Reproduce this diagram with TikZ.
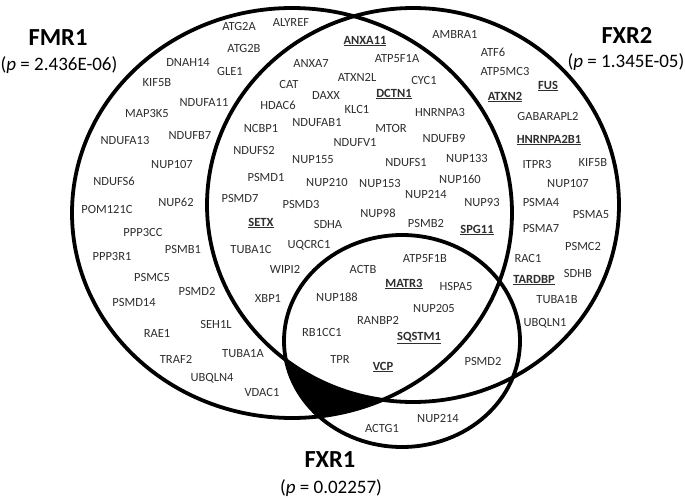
\documentclass[tikz,border=0pt]{standalone}
\usepackage{fontspec}
\setmainfont{Carlito}
\begin{document}
\begin{tikzpicture}[x=1pt,y=-1pt,
  gene/.style={font=\fontsize{12.5}{14}\selectfont, text=black!82, inner sep=0pt},
  keyg/.style={gene, font=\fontsize{12.5}{14}\selectfont\bfseries},
  title/.style={font=\fontsize{24.5}{28}\selectfont\bfseries, text=black, inner sep=0pt},
  pval/.style={font=\fontsize{19}{22}\selectfont, text=black, inner sep=0pt},
  ring/.style={line width=3.8pt, draw=black}]
\useasboundingbox (0,0) rectangle (685,498);
% black region: FMR1 and FXR1 but not FXR2
\begin{scope}
  \clip (292,213) ellipse [x radius=220, y radius=205];
  \clip (402,341) ellipse [x radius=118, y radius=106];
  \fill[black, even odd rule] (0,0) rectangle (685,498) (413,205) ellipse [x radius=206, y radius=197];
\end{scope}
\draw[ring] (292,213) ellipse [x radius=220, y radius=205];
\draw[ring] (413,205) ellipse [x radius=206, y radius=197];
\draw[ring] (402,341) ellipse [x radius=118, y radius=106];
% titles
\node[title] (tFMR1) at (58,38) {FMR1};
\node[pval] (pFMR1) at (59,65) {(\textit{p} = 2.436E-06)};
\node[title] (tFXR2) at (627,35) {FXR2};
\node[pval] (pFXR2) at (626,62) {(\textit{p} = 1.345E-05)};
\node[title] (tFXR1) at (330,460) {FXR1};
\node[pval] (pFXR1) at (331,488) {(\textit{p} = 0.02257)};
% FMR1 only
\node[gene] (a1) at (239,26) {ATG2A};
\node[gene] (a2) at (291,22) {ALYREF};
\node[gene] (a3) at (244,48) {ATG2B};
\node[gene] (a4) at (188,62) {DNAH14};
\node[gene] (a5) at (230,71) {GLE1};
\node[gene] (a6) at (157,83) {KIF5B};
\node[gene] (a7) at (204,103) {NDUFA11};
\node[gene] (a8) at (147,113) {MAP3K5};
\node[gene] (a9) at (190,136) {NDUFB7};
\node[gene] (a10) at (125,140) {NDUFA13};
\node[gene] (a11) at (172,164) {NUP107};
\node[gene] (a12) at (114,181) {NDUFS6};
\node[gene] (a13) at (176,202) {NUP62};
\node[gene] (a14) at (107,209) {POM121C};
\node[gene] (a15) at (143,232) {PPP3CC};
\node[gene] (a16) at (183,249) {PSMB1};
\node[gene] (a17) at (112,256) {PPP3R1};
\node[gene] (a18) at (152,277) {PSMC5};
\node[gene] (a19) at (197,291) {PSMD2};
\node[gene] (a20) at (134,302) {PSMD14};
\node[gene] (a21) at (216,324) {SEH1L};
\node[gene] (a22) at (157,333) {RAE1};
\node[gene] (a23) at (243,354) {TUBA1A};
\node[gene] (a24) at (176,359) {TRAF2};
\node[gene] (a25) at (212,378) {UBQLN4};
\node[gene] (a26) at (262,392) {VDAC1};
% FMR1 and FXR2
\node[keyg] (b1) at (365,41) {\underline{ANXA11}};
\node[gene] (b2) at (397,59) {ATP5F1A};
\node[gene] (b3) at (311,63) {ANXA7};
\node[gene] (b4) at (357,77) {ATXN2L};
\node[gene] (b5) at (424,80) {CYC1};
\node[gene] (b6) at (289,84) {CAT};
\node[gene] (b7) at (326,95) {DAXX};
\node[keyg] (b8) at (394,94) {\underline{DCTN1}};
\node[gene] (b9) at (278,105) {HDAC6};
\node[gene] (b10) at (357,109) {KLC1};
\node[gene] (b11) at (440,112) {HNRNPA3};
\node[gene] (b12) at (317,123) {NDUFAB1};
\node[gene] (b13) at (261,128) {NCBP1};
\node[gene] (b14) at (391,128) {MTOR};
\node[gene] (b15) at (444,138) {NDUFB9};
\node[gene] (b16) at (355,143) {NDUFV1};
\node[gene] (b17) at (254,150) {NDUFS2};
\node[gene] (b18) at (313,160) {NUP155};
\node[gene] (b19) at (406,162) {NDUFS1};
\node[gene] (b20) at (467,158) {NUP133};
\node[gene] (b21) at (266,177) {PSMD1};
\node[gene] (b22) at (327,182) {NUP210};
\node[gene] (b23) at (380,183) {NUP153};
\node[gene] (b24) at (460,179) {NUP160};
\node[gene] (b25) at (426,194) {NUP214};
\node[gene] (b26) at (240,198) {PSMD7};
\node[gene] (b27) at (482,202) {NUP93};
\node[gene] (b28) at (301,204) {PSMD3};
\node[gene] (b29) at (378,213) {NUP98};
\node[keyg] (b30) at (261,223) {\underline{SETX}};
\node[gene] (b31) at (328,224) {SDHA};
\node[gene] (b32) at (426,223) {PSMB2};
\node[keyg] (b33) at (477,230) {\underline{SPG11}};
\node[gene] (b34) at (309,245) {UQCRC1};
\node[gene] (b35) at (251,249) {TUBA1C};
\node[gene] (b36) at (285,269) {WIPI2};
\node[gene] (b37) at (268,298) {XBP1};
% all three
\node[gene] (c1) at (363,269) {ACTB};
\node[gene] (c2) at (425,259) {ATP5F1B};
\node[keyg] (c3) at (404,284) {\underline{MATR3}};
\node[gene] (c4) at (456,286) {HSPA5};
\node[gene] (c5) at (337,297) {NUP188};
\node[gene] (c6) at (434,308) {NUP205};
\node[gene] (c7) at (378,320) {RANBP2};
\node[gene] (c8) at (322,332) {RB1CC1};
\node[keyg] (c9) at (419,338) {\underline{SQSTM1}};
\node[gene] (c10) at (340,359) {TPR};
\node[keyg] (c11) at (383,367) {\underline{VCP}};
% FXR2 only
\node[gene] (d1) at (455,34) {AMBRA1};
\node[gene] (d2) at (493,52) {ATF6};
\node[gene] (d3) at (505,71) {ATP5MC3};
\node[keyg] (d4) at (548,86) {\underline{FUS}};
\node[keyg] (d5) at (505,97) {\underline{ATXN2}};
\node[gene] (d6) at (548,116) {GABARAPL2};
\node[keyg] (d7) at (549,140) {\underline{HNRNPA2B1}};
\node[gene] (d8) at (537,164) {ITPR3};
\node[gene] (d9) at (593,163) {KIF5B};
\node[gene] (d10) at (568,183) {NUP107};
\node[gene] (d11) at (541,202) {PSMA4};
\node[gene] (d12) at (591,214) {PSMA5};
\node[gene] (d13) at (541,228) {PSMA7};
\node[gene] (d14) at (583,246) {PSMC2};
\node[gene] (d15) at (528,258) {RAC1};
\node[gene] (d16) at (578,273) {SDHB};
\node[keyg] (d17) at (534,280) {\underline{TARDBP}};
\node[gene] (d18) at (557,300) {TUBA1B};
\node[gene] (d19) at (545,323) {UBQLN1};
% FXR2 and FXR1
\node[gene] (e1) at (483,361) {PSMD2};
% FXR1 only
\node[gene] (f1) at (438,418) {NUP214};
\node[gene] (f2) at (382,428) {ACTG1};
\end{tikzpicture}
\end{document}
